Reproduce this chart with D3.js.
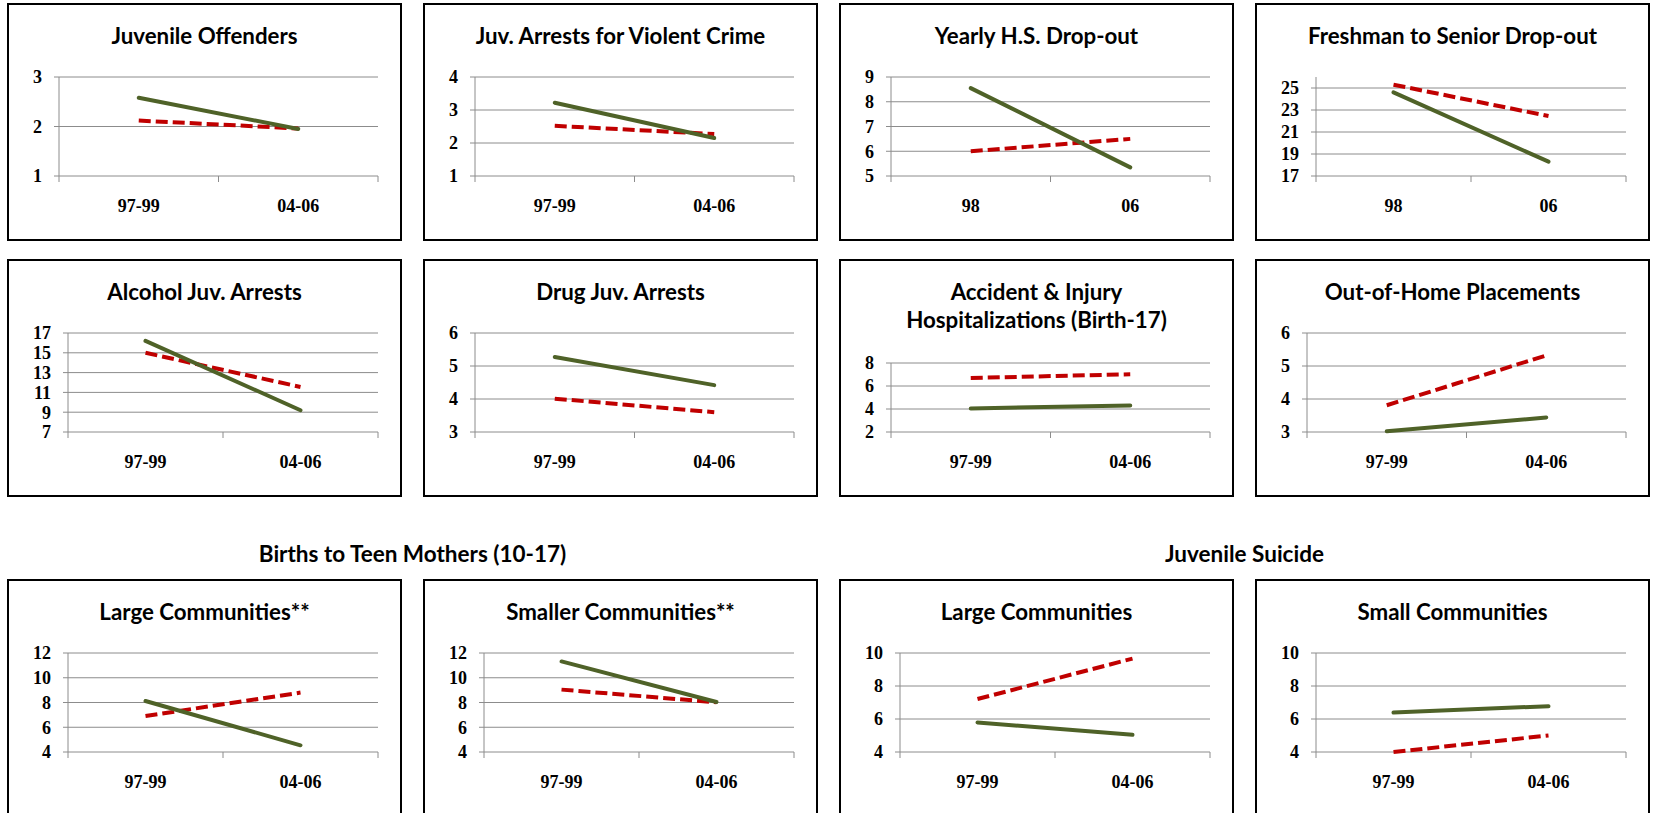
<!DOCTYPE html>
<html>
<head>
<meta charset="utf-8">
<script src="https://cdn.jsdelivr.net/npm/d3@7"></script>
<style>
  html, body { margin: 0; padding: 0; background: #fff; }
  svg { display: block; }
</style>
</head>
<body>
<svg id="chart" width="1653" height="813"></svg>
<script>
// ---------- data ----------
const titles = [
  ["Juvenile Offenders"],
  ["Juv. Arrests for Violent Crime"],
  ["Yearly H.S. Drop-out"],
  ["Freshman to Senior Drop-out"],
  ["Alcohol Juv. Arrests"],
  ["Drug Juv. Arrests"],
  ["Accident & Injury", "Hospitalizations (Birth-17)"],
  ["Out-of-Home Placements"],
  ["Large Communities**"],
  ["Smaller Communities**"],
  ["Large Communities"],
  ["Small Communities"]
];
const periodCats = ["97-99", "04-06"];
const yearCats = ["98", "06"];
const panelCats = [periodCats, periodCats, yearCats, yearCats,
                   periodCats, periodCats, periodCats, periodCats,
                   periodCats, periodCats, periodCats, periodCats];
const greenSeries = [
  [2.58, 1.95], [3.22, 2.15], [8.55, 5.35], [24.6, 18.3],
  [16.2, 9.2], [5.27, 4.42], [4.05, 4.3], [3.02, 3.44],
  [8.12, 4.54], [11.32, 8.04], [5.79, 5.04], [6.39, 6.78]
];
const redSeries = [
  [2.12, 1.96], [2.52, 2.27], [6.0, 6.5], [25.3, 22.45],
  [15.0, 11.55], [4.01, 3.6], [6.7, 7.02], [3.81, 5.32],
  [6.91, 8.8], [9.04, 8.02], [7.21, 9.66], [4.0, 5.0]
];
const yTicks = [
  [1, 2, 3], [1, 2, 3, 4], [5, 6, 7, 8, 9], [17, 19, 21, 23, 25],
  [7, 9, 11, 13, 15, 17], [3, 4, 5, 6], [2, 4, 6, 8], [3, 4, 5, 6],
  [4, 6, 8, 10, 12], [4, 6, 8, 10, 12], [4, 6, 8, 10], [4, 6, 8, 10]
];
const yMax = [3, 4, 9, 26, 17, 6, 8, 6, 12, 12, 10, 10];
const groupTitles = ["Births to Teen Mothers (10-17)", "Juvenile Suicide"];

// ---------- style / layout ----------
const GREEN = "#4F6228", RED = "#C00000", GRID = "#8C8C8C";
const titleFont = "Lato, 'Open Sans', sans-serif";
const tickFont = "'Liberation Serif', 'Times New Roman', serif";
const boxW = 393, boxH = 236;
const colX = [8, 424, 840, 1256];
const rowY = [4, 260, 580];

const svg = d3.select("#chart");

// group titles above bottom row
const groupCenters = [(colX[0] + colX[1] + boxW) / 2, (colX[2] + colX[3] + boxW) / 2];
svg.selectAll("text.group").data(groupTitles).join("text")
  .attr("class", "group")
  .attr("x", (d, i) => groupCenters[i])
  .attr("y", 562)
  .attr("text-anchor", "middle")
  .attr("font-family", titleFont)
  .attr("font-weight", "bold")
  .attr("font-size", 22.5)
  .attr("fill", "#000")
  .text(d => d);

titles.forEach((tl, i) => {
  const bx = colX[i % 4], by = rowY[Math.floor(i / 4)];
  const g = svg.append("g").attr("transform", `translate(${bx},${by})`);

  g.append("rect").attr("x", 0).attr("y", 0).attr("width", boxW).attr("height", boxH)
    .attr("fill", "#fff").attr("stroke", "#000").attr("stroke-width", 2);

  // title
  tl.forEach((line, k) => {
    g.append("text").attr("x", boxW / 2).attr("y", 40 + k * 28)
      .attr("text-anchor", "middle")
      .attr("font-family", titleFont).attr("font-weight", "bold").attr("font-size", 22.3)
      .attr("fill", "#000").text(line);
  });

  const ticks = yTicks[i];
  const twoDigit = d3.max(ticks, t => String(t).length) > 1;
  const left = twoDigit ? 60 : 51;
  const right = 370;
  const top = tl.length > 1 ? 103 : 73;
  const bottom = 172;

  const x = d3.scaleBand().domain(panelCats[i]).range([left, right]);
  const y = d3.scaleLinear().domain([ticks[0], yMax[i]]).range([bottom, top]);

  // gridlines
  g.selectAll("line.grid").data(ticks).join("line")
    .attr("x1", left - 5).attr("x2", right)
    .attr("y1", d => y(d)).attr("y2", d => y(d))
    .attr("stroke", GRID).attr("stroke-width", 1);
  // y axis line
  g.append("line").attr("x1", left).attr("x2", left)
    .attr("y1", y(yMax[i])).attr("y2", bottom)
    .attr("stroke", GRID).attr("stroke-width", 1);
  // x category boundary ticks
  const bounds = panelCats[i].map(c => x(c)).concat([right]);
  g.selectAll("line.xt").data(bounds).join("line")
    .attr("x1", d => d).attr("x2", d => d)
    .attr("y1", bottom).attr("y2", bottom + 6)
    .attr("stroke", GRID).attr("stroke-width", 1);

  // y labels
  g.selectAll("text.yl").data(ticks).join("text")
    .attr("x", left - 17).attr("y", d => y(d))
    .attr("dy", "0.35em").attr("text-anchor", "end")
    .attr("font-family", tickFont).attr("font-weight", "bold").attr("font-size", 18)
    .attr("fill", "#000").text(d => d);
  // x labels
  g.selectAll("text.xl").data(panelCats[i]).join("text")
    .attr("x", d => x(d) + x.bandwidth() / 2).attr("y", 208)
    .attr("text-anchor", "middle")
    .attr("font-family", tickFont).attr("font-weight", "bold").attr("font-size", 18)
    .attr("fill", "#000").text(d => d);

  const line = d3.line()
    .x((d, k) => x(panelCats[i][k]) + x.bandwidth() / 2)
    .y(d => y(d));

  g.append("path").datum(redSeries[i]).attr("d", line)
    .attr("fill", "none").attr("stroke", RED).attr("stroke-width", 4)
    .attr("stroke-dasharray", "12,5");
  g.append("path").datum(greenSeries[i]).attr("d", line)
    .attr("fill", "none").attr("stroke", GREEN).attr("stroke-width", 4)
    .attr("stroke-linecap", "round");
});
</script>
</body>
</html>
